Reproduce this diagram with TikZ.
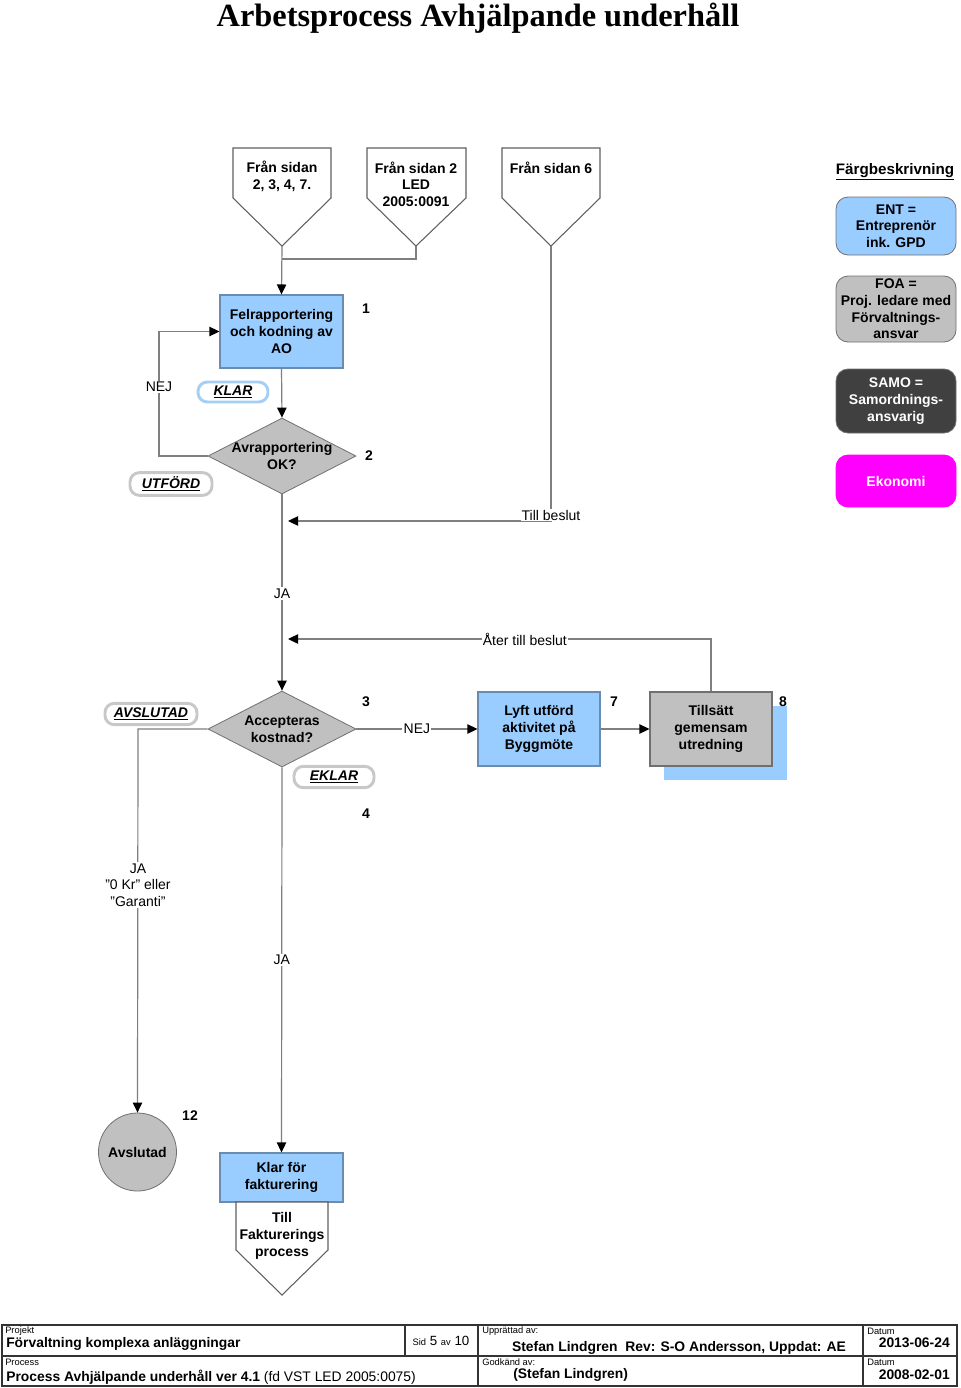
\documentclass[tikz,border=0pt]{standalone}
\usepackage{fontspec}
\setmainfont{Liberation Sans}
\newfontfamily\titlefont{Liberation Serif}
\usetikzlibrary{shapes.geometric,arrows.meta}
\definecolor{entblue}{HTML}{99CCFF}
\definecolor{foagray}{HTML}{C0C0C0}
\definecolor{samodark}{HTML}{404040}
\definecolor{eko}{HTML}{FF00FF}
\definecolor{lnc}{HTML}{7F7F7F}
\definecolor{bluebord}{HTML}{6A8CAE}
\definecolor{graybord}{HTML}{707070}
\definecolor{pentbord}{HTML}{606060}
\definecolor{tagblue}{HTML}{A6CFF5}
\definecolor{taggray}{HTML}{C8C8C8}
\begin{document}
\begin{tikzpicture}[x=0.75pt,y=-0.75pt,
  every node/.style={font=\fontsize{10.5}{12.5}\selectfont},
  btxt/.style={font=\bfseries\fontsize{10.5}{12.5}\selectfont, align=center, inner sep=0pt},
  bluebox/.style={draw=bluebord, fill=entblue, line width=0.8pt, minimum width=92.25pt, minimum height=54.75pt, btxt},
  graybox/.style={draw=graybord, fill=foagray, line width=0.8pt, minimum width=91.5pt, minimum height=55.5pt, btxt},
  dia/.style={diamond, draw=graybord, fill=foagray, line width=0.6pt, aspect=2, minimum width=111pt, minimum height=57pt, inner sep=0pt},
  offp/.style={draw=pentbord, line width=0.8pt, fill=white},
  line/.style={draw=lnc, line width=0.9pt},
  conn/.style={line, -{Triangle[length=7.5pt,width=7pt,color=black]}},
  lbl/.style={fill=white, inner sep=1pt, align=center},
  num/.style={font=\bfseries\fontsize{10.5}{12.5}\selectfont, inner sep=0pt},
  tagb/.style={draw=tagblue, line width=2.2pt, rounded corners=7pt, fill=white, minimum height=15pt, inner sep=0pt, font=\bfseries\itshape\fontsize{10.5}{12.5}\selectfont},
  tagg/.style={tagb, draw=taggray},
  leg/.style={rounded corners=9pt, draw=graybord, line width=0.6pt, minimum width=90pt, btxt},
  fsmall/.style={font=\fontsize{7}{8}\selectfont, inner sep=0pt},
  fbig/.style={font=\bfseries\fontsize{10.4}{12}\selectfont, inner sep=0pt}
]
\useasboundingbox (0,0) rectangle (960,1388);
\fill[white] (0,0) rectangle (960,1388);

% Title
\node[font=\titlefont\bfseries\fontsize{24.3}{28}\selectfont, inner sep=0pt, anchor=base] (title) at (478,27) {Arbetsprocess Avhjälpande underhåll};

% Off-page connectors (top)
\draw[offp] (233,148) -- (331,148) -- (331,198) -- (282,246) -- (233,198) -- cycle;
\node[btxt] (p1) at (282,176) {Från sidan\\2, 3, 4, 7.};
\coordinate (p1tip) at (282,246);
\draw[offp] (367,148) -- (466,148) -- (466,198) -- (416,246) -- (367,198) -- cycle;
\node[btxt] (p2) at (416,184) {Från sidan 2\\LED\\2005:0091};
\coordinate (p2tip) at (416,246);
\draw[offp] (502,148) -- (600,148) -- (600,198) -- (551,246) -- (502,198) -- cycle;
\node[btxt] (p3) at (551,168) {Från sidan 6};
\coordinate (p3tip) at (551,246);

% Process nodes
\node[bluebox] (fel) at (281.5,331.5) {Felrapportering\\och kodning av\\AO};
\node[num] (n1) at (366,309) {1};
\node[dia] (d1) at (282,456) {};
\node[btxt] (d1t) at (282,456) {Avrapportering\\OK?};
\node[num] (n2) at (369,456) {2};

\node[dia] (d2) at (282,729) {};
\node[btxt] (d2t) at (282,729) {Accepteras\\kostnad?};
\node[num] (n3) at (366,702) {3};
\node[num] (n4) at (366,814) {4};

\node[bluebox, minimum width=91.5pt, minimum height=55.5pt] (lyft) at (539,729) {Lyft utförd\\aktivitet på\\Byggmöte};
\node[num] (n7) at (614,702) {7};
\fill[entblue] (664,706) rectangle (787,780);
\node[graybox] (till) at (711,729) {Tillsätt\\gemensam\\utredning};
\node[num] (n8) at (783,702) {8};

\node[circle, draw=graybord, fill=foagray, line width=0.6pt, minimum size=58.5pt, inner sep=0pt, btxt] (avs) at (137.5,1152) {Avslutad};
\node[num] (n12) at (190,1116) {12};

\node[bluebox, minimum height=36.75pt] (klar) at (281.5,1177.5) {Klar för\\fakturering};
\draw[offp] (236,1202) -- (328,1202) -- (328,1250) -- (282,1295) -- (236,1250) -- cycle;
\node[btxt] (p4) at (282,1236) {Till\\Fakturerings\\process};

% Tags
\node[tagb, minimum width=52.5pt] (tklar) at (233,392) {\underline{KLAR}};
\node[tagg, minimum width=61.5pt, minimum height=17pt] (tutf) at (171,484) {\underline{UTFÖRD}};
\node[tagg, minimum width=69pt, minimum height=16pt] (tavs) at (151,714) {\underline{AVSLUTAD}};
\node[tagg, minimum width=60pt, minimum height=16pt] (tekl) at (334,777) {\underline{EKLAR}};

% Connectors
\coordinate (j1) at (282,259);
\draw[line] (p2tip) |- (j1);
\draw[conn] (p1tip) -- (fel.north);
\draw[conn] (fel.south) -- (d1.north);
\coordinate (nejc) at (159,456);
\draw[conn] (d1.west) -- (nejc) |- (fel.west);
\node[lbl] (nej1) at (159,387) {NEJ};
\draw[conn] (d1.south) -- (d2.north) node[lbl, pos=0.505] (ja1) {JA};
\coordinate (tb) at (288,521);
\draw[conn] (p3tip) |- (tb) node[lbl, pos=0.5, yshift=4.5pt, inner sep=0.5pt] (tbl) {Till beslut};
\coordinate (atb) at (288,639);
\draw[conn] (till.north) |- (atb) node[lbl, pos=0.72] (atbl) {Åter till beslut};
\draw[conn] (d2.east) -- (lyft.west) node[lbl, midway] (nej2) {NEJ};
\draw[conn] (lyft.east) -- (till.west);
\coordinate (jac) at (138,729);
\draw[conn] (d2.west) -- (jac) -- (avs.north);
\node[lbl] (ja2) at (138,885) {JA\\”0 Kr” eller\\”Garanti”};
\draw[conn] (d2.south) -- (klar.north) node[lbl, pos=0.5] (ja3) {JA};

% Legend
\node[font=\bfseries\fontsize{11.4}{13}\selectfont, inner sep=0pt] (legt) at (895,172) {\underline{Färgbeskrivning}};
\node[leg, fill=entblue, minimum height=43.5pt] (lent) at (896,226) {ENT =\\Entreprenör\\ink. GPD};
\node[leg, fill=foagray, minimum height=49.5pt] (lfoa) at (896,309) {FOA =\\Proj. ledare med\\Förvaltnings-\\ansvar};
\node[leg, fill=samodark, text=white, minimum height=48pt] (lsamo) at (896,401) {SAMO =\\Samordnings-\\ansvarig};
\node[leg, fill=eko, draw=eko, text=white, minimum height=39pt] (leko) at (896,481) {Ekonomi};

% Footer
\draw[line width=1.4pt, draw=black!80] (2,1325) rectangle (957,1386);
\draw[line width=0.8pt, draw=black!80] (2,1356) -- (957,1356);
\draw[line width=0.8pt, draw=black!80] (405,1325) -- (405,1356);
\draw[line width=0.8pt, draw=black!80] (478,1325) -- (478,1386);
\draw[line width=0.8pt, draw=black!80] (863,1325) -- (863,1386);
\node[fsmall, anchor=west] (f1) at (5,1331) {Projekt};
\node[fbig, anchor=west] (f2) at (6,1344) {Förvaltning komplexa anläggningar};
\node[inner sep=0pt, font=\fontsize{10}{12}\selectfont] (f3) at (441,1341) {{\fontsize{7}{8}\selectfont Sid} 5 {\fontsize{7}{8}\selectfont av} 10};
\node[fsmall, anchor=west] (f4) at (482,1331) {Upprättad av:};
\node[fbig] (f5) at (679,1348) {Stefan Lindgren\ \ Rev: S-O Andersson, Uppdat: AE};
\node[fsmall, anchor=west] (f6) at (867,1331) {Datum};
\node[fbig, anchor=east] (f7) at (950,1343) {2013-06-24};
\node[fsmall, anchor=west] (f8) at (5,1362) {Process};
\node[fbig, anchor=west] (f9) at (6,1377) {Process Avhjälpande underhåll ver 4.1 {\mdseries (fd VST LED 2005:0075)}};
\node[fsmall, anchor=west] (f10) at (482,1362) {Godkänd av:};
\node[fbig, anchor=west] (f11) at (513,1375) {(Stefan Lindgren)};
\node[fsmall, anchor=west] (f12) at (867,1362) {Datum};
\node[fbig, anchor=east] (f13) at (950,1375) {2008-02-01};
\end{tikzpicture}
\end{document}
